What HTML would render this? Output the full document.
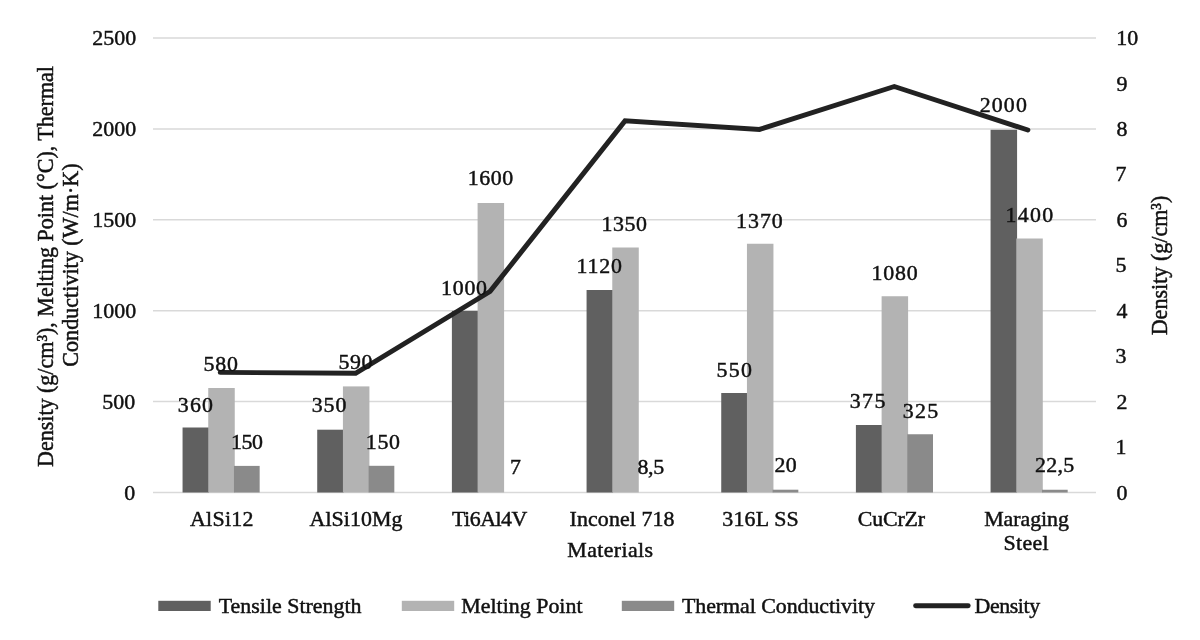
<!DOCTYPE html>
<html><head><meta charset="utf-8"><title>Materials chart</title>
<style>
html,body{margin:0;padding:0;background:#fff;}
body{width:1200px;height:640px;overflow:hidden;}
svg{display:block;}
text{font-family:"Liberation Serif",serif;font-size:20.6px;fill:#111;stroke:#111;stroke-width:0.45px;}
</style></head><body>
<svg width="1200" height="640" viewBox="0 0 1200 640">
<rect width="1200" height="640" fill="#ffffff"/>

<line x1="153.0" x2="1096.0" y1="492.50" y2="492.50" stroke="#d9d9d9" stroke-width="1.5"/>
<line x1="153.0" x2="1096.0" y1="401.60" y2="401.60" stroke="#d9d9d9" stroke-width="1.5"/>
<line x1="153.0" x2="1096.0" y1="310.70" y2="310.70" stroke="#d9d9d9" stroke-width="1.5"/>
<line x1="153.0" x2="1096.0" y1="219.80" y2="219.80" stroke="#d9d9d9" stroke-width="1.5"/>
<line x1="153.0" x2="1096.0" y1="128.90" y2="128.90" stroke="#d9d9d9" stroke-width="1.5"/>
<line x1="153.0" x2="1096.0" y1="38.00" y2="38.00" stroke="#d9d9d9" stroke-width="1.5"/>
<rect x="182.56" y="427.50" width="26.50" height="65.00" fill="#606060"/>
<rect x="208.25" y="388.00" width="26.50" height="104.50" fill="#b3b3b3"/>
<rect x="233.96" y="465.90" width="25.70" height="26.60" fill="#8a8a8a"/>
<rect x="317.22" y="429.70" width="26.50" height="62.80" fill="#606060"/>
<rect x="342.92" y="386.40" width="26.50" height="106.10" fill="#b3b3b3"/>
<rect x="368.62" y="465.80" width="25.70" height="26.70" fill="#8a8a8a"/>
<rect x="451.89" y="310.90" width="26.50" height="181.60" fill="#606060"/>
<rect x="477.59" y="203.00" width="26.50" height="289.50" fill="#b3b3b3"/>
<rect x="586.57" y="290.00" width="26.50" height="202.50" fill="#606060"/>
<rect x="612.27" y="247.50" width="26.50" height="245.00" fill="#b3b3b3"/>
<rect x="721.24" y="393.00" width="26.50" height="99.50" fill="#606060"/>
<rect x="746.94" y="243.75" width="26.50" height="248.75" fill="#b3b3b3"/>
<rect x="772.63" y="489.70" width="25.70" height="2.80" fill="#8a8a8a"/>
<rect x="855.90" y="425.00" width="26.50" height="67.50" fill="#606060"/>
<rect x="881.61" y="296.25" width="26.50" height="196.25" fill="#b3b3b3"/>
<rect x="907.30" y="434.25" width="25.70" height="58.25" fill="#8a8a8a"/>
<rect x="990.58" y="129.80" width="26.50" height="362.70" fill="#606060"/>
<rect x="1016.28" y="238.50" width="26.50" height="254.00" fill="#b3b3b3"/>
<rect x="1041.98" y="489.75" width="25.70" height="2.75" fill="#8a8a8a"/>
<g transform="scale(1.04,1)"><polyline points="211.83,372.40 341.92,373.20 471.15,291.50 601.06,120.70 730.29,129.40 859.90,86.50 988.27,130.00" fill="none" stroke="#222222" stroke-width="4.9" stroke-linecap="round" stroke-linejoin="miter"/></g>
<text transform="translate(177.75,411.80) scale(1.063,1)" letter-spacing="1.152">360</text>
<text transform="translate(203.40,370.60) scale(1.063,1)" letter-spacing="0.847">580</text>
<text transform="translate(230.90,448.90) scale(1.063,1)" letter-spacing="-0.329">150</text>
<text transform="translate(311.70,412.20) scale(1.063,1)" letter-spacing="0.894">350</text>
<text transform="translate(338.40,368.90) scale(1.063,1)" letter-spacing="0.564">590</text>
<text transform="translate(365.70,448.70) scale(1.063,1)" letter-spacing="0.706">150</text>
<text transform="translate(441.00,294.50) scale(1.063,1)" letter-spacing="0.706">1000</text>
<text transform="translate(467.75,184.50) scale(1.063,1)" letter-spacing="0.549">1600</text>
<text transform="translate(510.05,473.90) scale(1.063,1)">7</text>
<text transform="translate(576.50,272.50) scale(1.063,1)" letter-spacing="0.784">1120</text>
<text transform="translate(601.50,230.75) scale(1.063,1)" letter-spacing="0.549">1350</text>
<text transform="translate(637.50,473.75) scale(1.063,1)" letter-spacing="-0.353">8,5</text>
<text transform="translate(716.50,376.75) scale(1.063,1)" letter-spacing="1.176">550</text>
<text transform="translate(736.00,227.50) scale(1.063,1)" letter-spacing="0.941">1370</text>
<text transform="translate(774.50,471.75) scale(1.063,1)" letter-spacing="0.235">20</text>
<text transform="translate(849.75,408.00) scale(1.063,1)" letter-spacing="1.294">375</text>
<text transform="translate(871.50,280.00) scale(1.063,1)" letter-spacing="0.784">1080</text>
<text transform="translate(902.75,417.50) scale(1.063,1)" letter-spacing="1.176">325</text>
<text transform="translate(979.70,112.40) scale(1.063,1)" letter-spacing="1.066">2000</text>
<text transform="translate(1005.40,222.10) scale(1.063,1)" letter-spacing="1.223">1400</text>
<text transform="translate(1035.00,471.50) scale(1.063,1)" letter-spacing="0.314">22,5</text>
<text transform="translate(190.00,526.00) scale(1.063,1)" letter-spacing="0.282">AlSi12</text>
<text transform="translate(309.50,526.00) scale(1.063,1)" letter-spacing="0.067">AlSi10Mg</text>
<text transform="translate(452.00,526.00) scale(1.063,1)" letter-spacing="-0.470">Ti6Al4V</text>
<text transform="translate(569.60,526.20) scale(1.063,1)" letter-spacing="0.094">Inconel 718</text>
<text transform="translate(722.25,526.00) scale(1.063,1)" letter-spacing="0.196">316L SS</text>
<text transform="translate(857.70,526.00) scale(1.063,1)" letter-spacing="-0.132">CuCrZr</text>
<text transform="translate(984.20,526.00) scale(1.063,1)" letter-spacing="-0.060">Maraging</text>
<text transform="translate(1003.60,550.00) scale(1.063,1)" letter-spacing="0.270">Steel</text>
<text transform="translate(567.30,556.50) scale(1.063,1)" letter-spacing="0.365">Materials</text>
<text transform="translate(218.75,612.50) scale(1.063,1)" letter-spacing="0.016">Tensile Strength</text>
<text transform="translate(461.25,612.50) scale(1.063,1)" letter-spacing="0.020">Melting Point</text>
<text transform="translate(682.00,612.50) scale(1.063,1)" letter-spacing="-0.050">Thermal Conductivity</text>
<text transform="translate(974.60,612.50) scale(1.063,1)" letter-spacing="-0.408">Density</text>
<text transform="translate(124.30,499.60) scale(1.063,1)">0</text>
<text transform="translate(102.30,408.70) scale(1.063,1)">500</text>
<text transform="translate(92.30,317.80) scale(1.063,1)">1000</text>
<text transform="translate(92.30,226.90) scale(1.063,1)">1500</text>
<text transform="translate(92.30,136.00) scale(1.063,1)">2000</text>
<text transform="translate(92.30,45.10) scale(1.063,1)">2500</text>
<text transform="translate(1116.60,499.60) scale(1.063,1)">0</text>
<text transform="translate(1115.60,454.15) scale(1.063,1)">1</text>
<text transform="translate(1116.60,408.70) scale(1.063,1)">2</text>
<text transform="translate(1115.60,363.25) scale(1.063,1)">3</text>
<text transform="translate(1116.60,317.80) scale(1.063,1)">4</text>
<text transform="translate(1115.60,272.35) scale(1.063,1)">5</text>
<text transform="translate(1116.60,226.90) scale(1.063,1)">6</text>
<text transform="translate(1115.60,181.45) scale(1.063,1)">7</text>
<text transform="translate(1116.60,136.00) scale(1.063,1)">8</text>
<text transform="translate(1116.60,90.55) scale(1.063,1)">9</text>
<text transform="translate(1116.20,45.10) scale(1.063,1)">10</text>
<text transform="translate(52.90,467.00) rotate(-90) scale(1.07,1.08)" letter-spacing="0.000">Density (g/cm³), Melting Point (°C), Thermal</text>
<text transform="translate(77.80,366.70) rotate(-90) scale(1.07,1.08)" letter-spacing="0.039">Conductivity (W/m·K)</text>
<text transform="translate(1167.20,335.30) rotate(-90) scale(1.07,1.08)" letter-spacing="0.020">Density (g/cm³)</text>
<rect x="158.3" y="600.8" width="52.4" height="10.2" fill="#606060"/>
<rect x="401.8" y="600.8" width="52.4" height="10.2" fill="#b3b3b3"/>
<rect x="621.8" y="600.8" width="52.4" height="10.2" fill="#8a8a8a"/>
<line x1="915.6" x2="968.2" y1="605.8" y2="605.8" stroke="#222222" stroke-width="4.9" stroke-linecap="round"/>
</svg></body></html>
